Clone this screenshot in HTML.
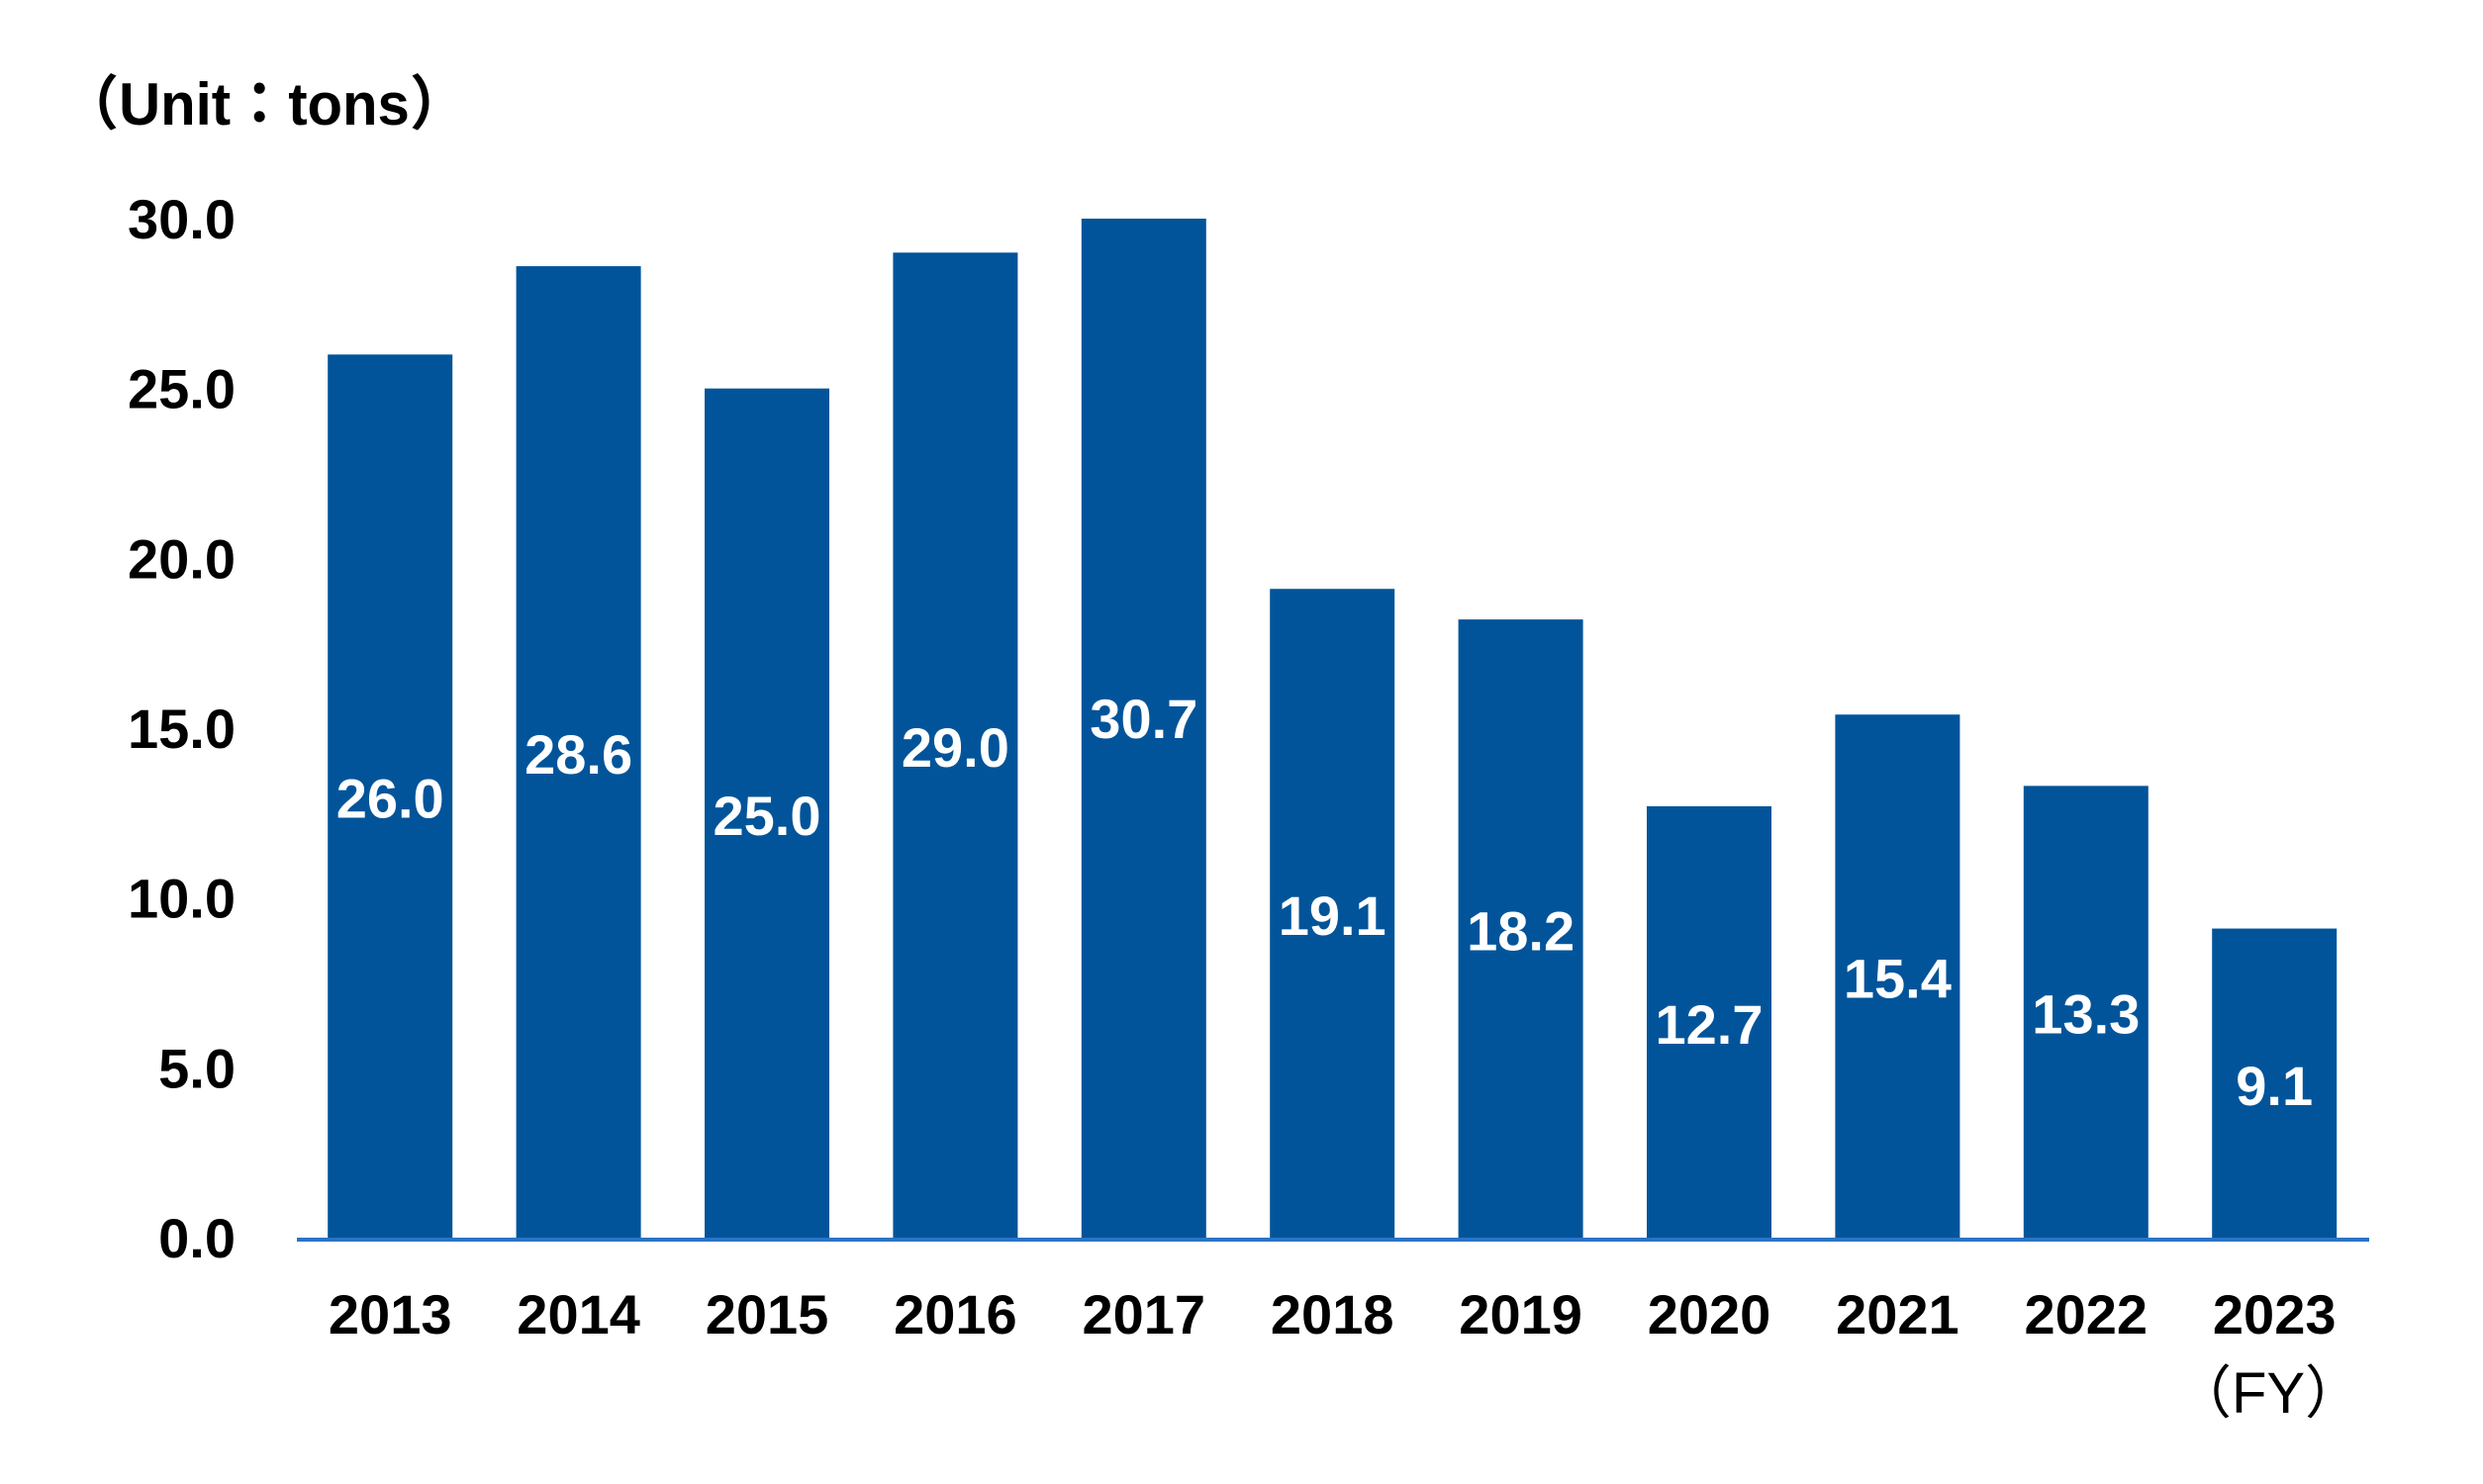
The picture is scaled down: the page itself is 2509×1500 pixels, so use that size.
<!DOCTYPE html>
<html><head><meta charset="utf-8"><style>
html,body{margin:0;padding:0;background:#fff;}
svg{display:block;font-family:"Liberation Sans","Noto Sans CJK JP",sans-serif;}
</style></head><body>
<svg id="chart" width="2509" height="1500" viewBox="0 0 2509 1500" xmlns="http://www.w3.org/2000/svg">
<text x="62" y="126" font-size="60" font-weight="bold" fill="#000" textLength="410" lengthAdjust="spacingAndGlyphs">（Unit：tons）</text>
<g id="yticks"></g><g id="bars"></g><g id="xlabels"></g>
<line x1="300" y1="1253" x2="2394" y2="1253" stroke="#2a74c4" stroke-width="4"/>
<text x="2292" y="1428" font-size="58" text-anchor="middle" fill="#000">（FY）</text>
</svg>
<script>
const categories=["2013","2014","2015","2016","2017","2018","2019","2020","2021","2022","2023"];
const values=[26.0,28.6,25.0,29.0,30.7,19.1,18.2,12.7,15.4,13.3,9.1];
const yTicks=[0,5,10,15,20,25,30];
const yTickLabels=["0.0","5.0","10.0","15.0","20.0","25.0","30.0"];
const yMax=30;
const NS="http://www.w3.org/2000/svg";
const plotTop=221,plotBottom=1251,plotLeft=299,band=190.4,barW=126;
function y(v){return plotBottom-(Math.min(v,yMax)/yMax)*(plotBottom-plotTop);}
function yRaw(v){return plotBottom-(v/yMax)*(plotBottom-plotTop);}
function xc(i){return plotLeft+band*(i+0.5);}
function mk(tag,attrs,parent,text){const e=document.createElementNS(NS,tag);for(const k in attrs)e.setAttribute(k,attrs[k]);if(text!==undefined)e.textContent=text;parent.appendChild(e);return e;}
const yt=document.getElementById('yticks');
yTicks.forEach((t,i)=>{
  const e=mk('text',{x:238,y:y(t)+20,'font-size':56,'font-weight':'bold','text-anchor':'end',fill:'#000'},yt,yTickLabels[i]);
  
  
});
const bg=document.getElementById('bars');
values.forEach((v,i)=>{
  const r=mk('rect',{x:xc(i)-barW/2,y:y(v),width:barW,height:plotBottom-y(v),fill:'#02549a'},bg);
  
  
  const t=mk('text',{x:xc(i),y:yRaw(v/2)+22,'font-size':56,'font-weight':'bold','text-anchor':'middle',fill:'#fff'},bg,v.toFixed(1));
  
  
});
const xl=document.getElementById('xlabels');
categories.forEach((c,i)=>{
  const t=mk('text',{x:xc(i),y:1348,'font-size':56,'font-weight':'bold','text-anchor':'middle',fill:'#000'},xl,c);
  
  
});
</script>
</body></html>
